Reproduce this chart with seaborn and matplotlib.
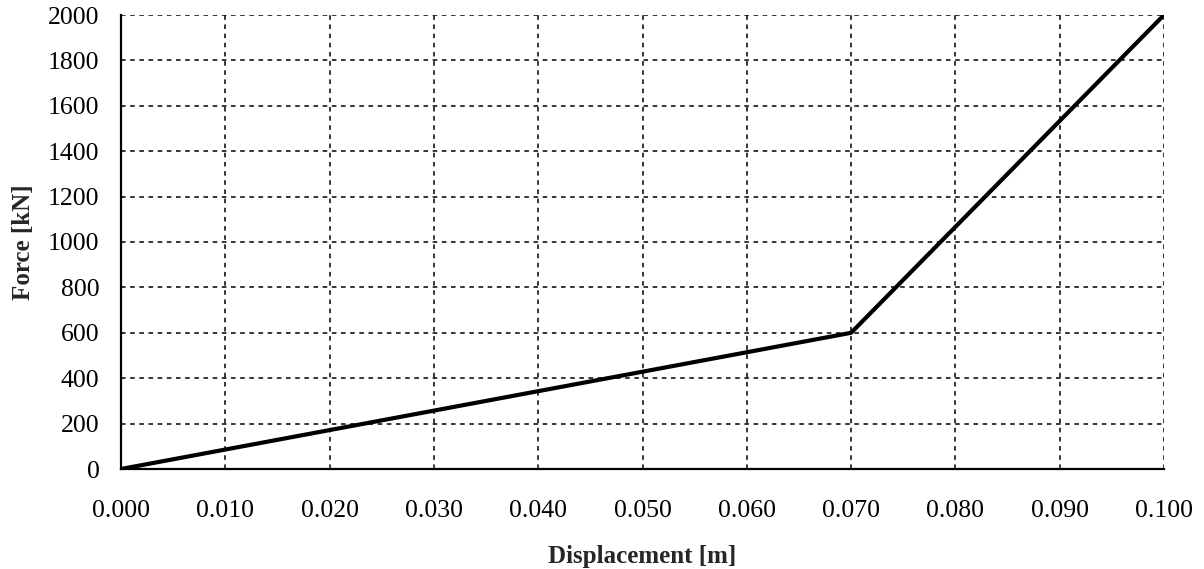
import matplotlib
matplotlib.use("Agg")
import matplotlib.pyplot as plt
import seaborn as sns
import pandas as pd

displacement = [0.000, 0.070, 0.100]
force = [0, 600, 2000]
x_ticks = [0.000, 0.010, 0.020, 0.030, 0.040, 0.050, 0.060, 0.070, 0.080, 0.090, 0.100]
y_ticks = [0, 200, 400, 600, 800, 1000, 1200, 1400, 1600, 1800, 2000]

sns.set_style("white")
plt.rcParams["font.family"] = ["Liberation Serif", "DejaVu Serif"]

df = pd.DataFrame({"Displacement": displacement, "Force": force})

fig = plt.figure(figsize=(12.04, 5.69), dpi=100)
ax = fig.add_axes([121 / 1204, 1 - 469 / 569, (1164 - 121) / 1204, (469 - 15) / 569])

sns.lineplot(data=df, x="Displacement", y="Force", ax=ax, color="black",
             linewidth=3.0, zorder=3)

ax.set_xlim(0, 0.100)
ax.set_ylim(0, 2000)
ax.set_xticks(x_ticks)
ax.set_xticklabels([f"{v:.3f}" for v in x_ticks], fontsize=18.5)
ax.set_yticks(y_ticks)
ax.set_yticklabels([str(v) for v in y_ticks], fontsize=18.5)

ax.grid(True, color="black", linestyle=(0, (3, 3)), linewidth=1.1)
ax.set_axisbelow(True)

for side in ("top", "right"):
    ax.spines[side].set_visible(False)
for side in ("left", "bottom"):
    ax.spines[side].set_color("black")
    ax.spines[side].set_linewidth(1.6)

ax.tick_params(axis="both", direction="out", width=1.2, color="black",
               labelcolor="black")
ax.tick_params(axis="x", length=8, pad=14)
ax.tick_params(axis="y", length=10, pad=5.5)

ax.set_xlabel("Displacement [m]", fontsize=18, fontweight="bold", labelpad=17)
ax.set_ylabel("Force [kN]", fontsize=18, fontweight="bold", labelpad=9)

fig.savefig("out.png", dpi=100, facecolor="white")
